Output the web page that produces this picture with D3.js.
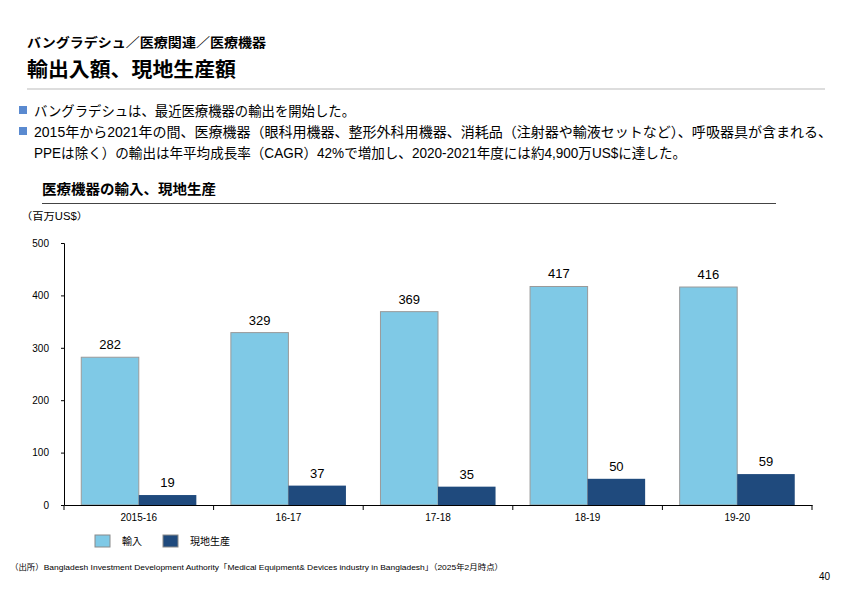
<!DOCTYPE html>
<html><head><meta charset="utf-8">
<script src="https://cdn.jsdelivr.net/npm/d3@7"></script>
<style>
html,body{margin:0;padding:0;background:#fff;}
text{font-family:"Liberation Sans","Noto Sans CJK JP",sans-serif;}
</style></head>
<body>
<svg id="c" width="842" height="595"></svg>
<script>
const categories = ["2015-16","16-17","17-18","18-19","19-20"];
const seriesNames = ["輸入","現地生産"];
const importValues = [282,329,369,417,416];
const localValues = [19,37,35,50,59];
const yTicks = [0,100,200,300,400,500];
const colors = ["#7FC9E6","#1F4A7D"];

const svg = d3.select("#c");

// Header
svg.append("text").attr("x",27).attr("y",47).attr("font-size",13).attr("font-weight","bold")
  .attr("textLength",239).attr("lengthAdjust","spacingAndGlyphs")
  .text("バングラデシュ／医療関連／医療機器");
svg.append("text").attr("x",27).attr("y",77).attr("font-size",20).attr("font-weight","bold")
  .attr("textLength",209).attr("lengthAdjust","spacingAndGlyphs")
  .text("輸出入額、現地生産額");
svg.append("line").attr("x1",27).attr("x2",825).attr("y1",89).attr("y2",89)
  .attr("stroke","#bbbbbb").attr("stroke-width",1);

// Bullets
const bullets = [
  {y:116, text:"バングラデシュは、最近医療機器の輸出を開始した。", w:321, mark:true},
  {y:137, text:"2015年から2021年の間、医療機器（眼科用機器、整形外科用機器、消耗品（注射器や輸液セットなど）、呼吸器具が含まれる、", w:798, mark:true},
  {y:158, text:"PPEは除く）の輸出は年平均成長率（CAGR）42%で増加し、2020-2021年度には約4,900万US$に達した。", w:652, mark:false}
];
bullets.forEach(b=>{
  if(b.mark) svg.append("rect").attr("x",19).attr("y",b.y-10).attr("width",8).attr("height",8).attr("fill","#5A8AD0");
  svg.append("text").attr("x",34).attr("y",b.y).attr("font-size",14)
    .attr("textLength",b.w).attr("lengthAdjust","spacingAndGlyphs").text(b.text);
});

// Chart subtitle
svg.append("text").attr("x",42).attr("y",194).attr("font-size",14).attr("font-weight","bold")
  .attr("textLength",174).attr("lengthAdjust","spacingAndGlyphs").text("医療機器の輸入、現地生産");
svg.append("line").attr("x1",42).attr("x2",776).attr("y1",203.5).attr("y2",203.5)
  .attr("stroke","#444").attr("stroke-width",1);
svg.append("text").attr("x",21).attr("y",220).attr("font-size",10)
  .attr("textLength",67).attr("lengthAdjust","spacingAndGlyphs").text("（百万US$）");

// Scales
const x0 = d3.scaleBand().domain(categories).range([64,812]).paddingInner(0).paddingOuter(0);
const x1 = d3.scaleBand().domain(seriesNames).range([0,x0.bandwidth()]).paddingInner(0).paddingOuter(0.3);
const y = d3.scaleLinear().domain([0,500]).range([505,243]);

// Bars
const data = categories.map((c,i)=>({cat:c, vals:[importValues[i], localValues[i]]}));
const g = svg.append("g");
data.forEach(d=>{
  d.vals.forEach((v,j)=>{
    const bx = x0(d.cat)+x1(seriesNames[j]);
    g.append("rect").attr("x",bx).attr("y",y(v)).attr("width",x1.bandwidth()).attr("height",y(0)-y(v))
      .attr("fill",colors[j]).attr("stroke", j===0?"#9a9a9a":"none").attr("stroke-width",1);
    g.append("text").attr("x",bx+x1.bandwidth()/2).attr("y",y(v)-8).attr("text-anchor","middle")
      .attr("font-size",13).text(v);
  });
});

// Y axis
const yAxis = d3.axisLeft(y).tickValues(yTicks).tickSize(3).tickPadding(12);
const ya = svg.append("g").attr("transform","translate(64,0)").call(yAxis);
ya.select(".domain").attr("stroke","#000");
ya.selectAll(".tick line").attr("stroke","#000");
ya.selectAll(".tick text").attr("font-size",10).attr("fill","#000")
  .attr("font-family","Liberation Sans, sans-serif");

// X axis
const xAxis = d3.axisBottom(x0).tickSize(0).tickPadding(9);
const xa = svg.append("g").attr("transform","translate(0,505)").call(xAxis);
xa.select(".domain").attr("stroke","#000");
xa.selectAll(".tick text").attr("font-size",10).attr("fill","#000")
  .attr("font-family","Liberation Sans, sans-serif");
// category boundary ticks
const bounds = categories.map(c=>x0(c)).concat([x0.range()[1]]);
svg.append("g").selectAll("line").data(bounds).join("line")
  .attr("x1",d=>d).attr("x2",d=>d).attr("y1",505).attr("y2",510).attr("stroke","#000");

// Legend
const legX = [95,163];
seriesNames.forEach((s,j)=>{
  svg.append("rect").attr("x",legX[j]).attr("y",535).attr("width",15).attr("height",12)
    .attr("fill",colors[j]).attr("stroke","#8a8a8a").attr("stroke-width",1);
  svg.append("text").attr("x",legX[j]+27).attr("y",545).attr("font-size",10).text(s);
});

// Footer
svg.append("text").attr("x",10).attr("y",570).attr("font-size",8)
  .attr("textLength",493).attr("lengthAdjust","spacingAndGlyphs")
  .text("（出所）Bangladesh Investment Development Authority「Medical Equipment& Devices industry in Bangladesh」（2025年2月時点）");
svg.append("text").attr("x",830).attr("y",580).attr("font-size",10).attr("text-anchor","end").text("40");
</script>
</body></html>
